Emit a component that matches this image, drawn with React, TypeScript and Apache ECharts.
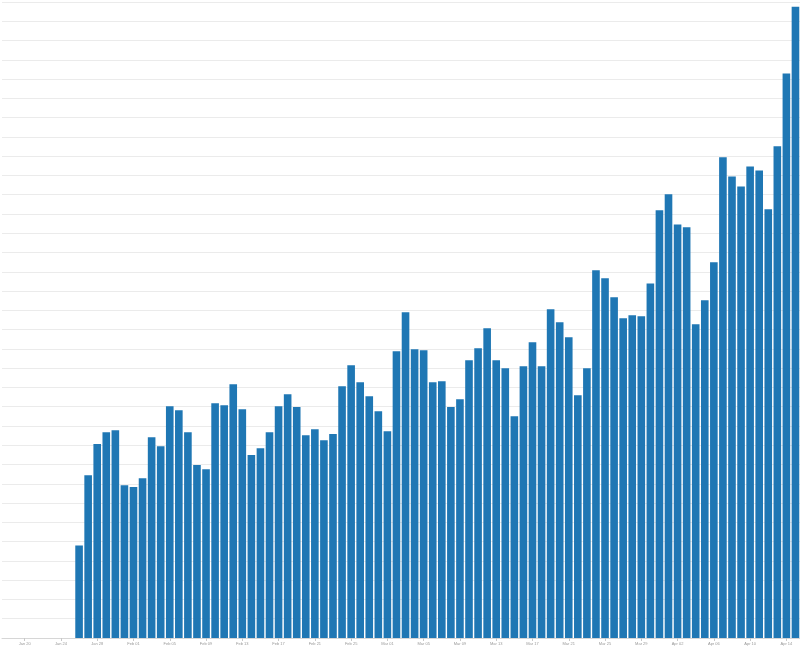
import React, { useEffect, useRef } from "react";
import * as echarts from "echarts";

const months = ["Jan", "Feb", "Mar", "Apr"];
const monthDays = [31, 28, 31, 30];
// dates Jan 18 .. Apr 15
function buildCategories(): string[] {
  const out: string[] = [];
  let m = 0;
  let d = 18;
  while (!(m === 3 && d > 15)) {
    out.push(`${months[m]} ${String(d).padStart(2, "0")}`);
    d++;
    if (d > monthDays[m]) {
      d = 1;
      m++;
    }
  }
  return out;
}
const categories = buildCategories();

// values from Jan 26 .. Apr 15 (first 8 dates are empty)
const leadingEmpty = 8;
const values = [
  48, 84.5, 100.6, 106.8, 107.8, 79.3, 78.3, 82.9, 104.2, 99.5,
  120.3, 118.2, 106.8, 89.7, 87.6, 121.8, 120.8, 131.7, 118.7, 94.9,
  98.5, 106.8, 120.3, 126.5, 119.8, 105.2, 108.3, 102.6, 105.8, 130.6,
  141.5, 132.7, 125.5, 117.7, 107.3, 148.8, 169.0, 149.8, 149.3, 132.7,
  133.2, 119.8, 123.9, 144.1, 150.3, 160.7, 144.1, 140.0, 115.1, 141.0,
  153.4, 141.0, 170.6, 163.8, 156.0, 126.0, 140.0, 190.8, 186.6, 176.8,
  165.9, 167.4, 166.9, 184.0, 221.9, 230.2, 214.6, 213.1, 162.8, 175.2,
  194.9, 249.4, 239.5, 234.3, 244.7, 242.6, 222.4, 255.1, 292.9, 327.6,
];

const seriesData: (number | null)[] = [
  ...Array.from({ length: leadingEmpty }, () => null),
  ...values,
];

export default function App() {
  const ref = useRef<HTMLDivElement>(null);
  useEffect(() => {
    if (!ref.current) return;
    const chart = echarts.init(ref.current, null, { renderer: "svg" });
    const labelEvery = (idx: number) => idx >= 2 && (idx - 2) % 4 === 0;
    chart.setOption({
      animation: false,
      grid: { left: 2, right: 0, top: 2, bottom: 13, containLabel: false },
      xAxis: {
        type: "category",
        data: categories,
        axisLine: { show: true, lineStyle: { color: "#d6d6d6", width: 1 } },
        axisTick: {
          show: true,
          alignWithLabel: true,
          interval: (idx: number) => labelEvery(idx),
          length: 3,
          lineStyle: { color: "#c8c8c8" },
        },
        axisLabel: {
          interval: (idx: number) => labelEvery(idx),
          fontSize: 4,
          fontFamily: "Liberation Sans",
          color: "#999999",
          margin: 3,
        },
        splitLine: { show: false },
      },
      yAxis: {
        type: "value",
        min: 0,
        max: 330,
        interval: 10,
        axisLabel: { show: false },
        axisLine: { show: false },
        axisTick: { show: false },
        splitLine: { show: true, lineStyle: { color: "#ebebeb", width: 1 } },
      },
      series: [
        {
          type: "bar",
          data: seriesData,
          barCategoryGap: "16%",
          itemStyle: { color: "#1f77b4" },
        },
      ],
    });
    return () => chart.dispose();
  }, []);
  return (
    <div
      ref={ref}
      style={{ position: "fixed", left: 0, top: 0, width: 800, height: 651 }}
    />
  );
}
